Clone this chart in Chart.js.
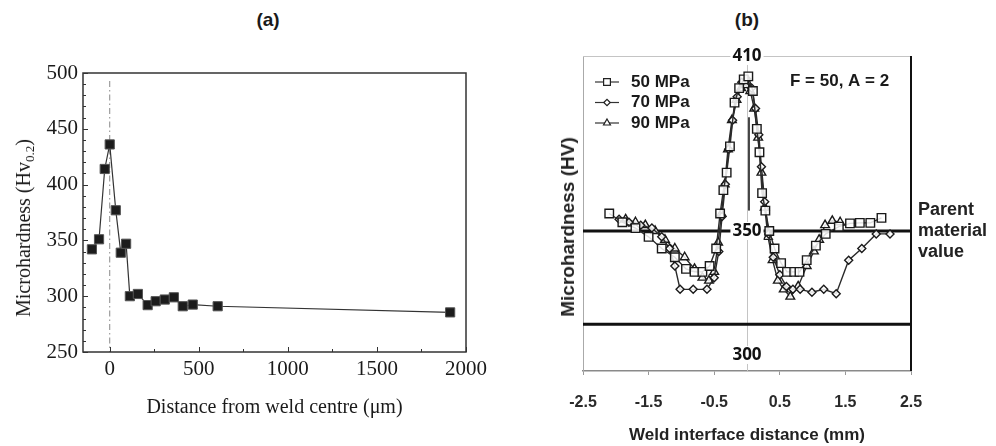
<!DOCTYPE html>
<html>
<head>
<meta charset="utf-8">
<script src="https://cdn.jsdelivr.net/npm/chart.js"></script>
<style>
  body { margin: 0; width: 996px; height: 446px; background: #fff; position: relative; overflow: hidden; }
  .panel { position: absolute; top: 0; width: 498px; height: 446px; }
  .txt { position: absolute; white-space: nowrap; color: #1a1a1a; }
  .ptitle { top: 20px; transform: translate(-50%, -50%); font: bold 19px "Liberation Sans", Arial, sans-serif; }
  .ytitle { transform: translate(-50%, -50%) rotate(-90deg); }
  sub { font-size: 13px; vertical-align: -4px; }
</style>
</head>
<body>
<div class="txt ptitle" style="left:268px">(a)</div>
<div class="txt ptitle" style="left:747px">(b)</div>

<div class="panel" style="left:0"><canvas id="chartA" width="498" height="446"></canvas></div>
<div class="panel" style="left:498px"><canvas id="chartB" width="498" height="446"></canvas></div>

<div class="txt ytitle" style="left:25px;top:228px;font:20px 'Liberation Serif', 'Times New Roman', serif">Microhardness (Hv<sub>0.2</sub>)</div>
<div class="txt ytitle" style="left:568px;top:227px;font:bold 19px 'Liberation Sans', Arial, sans-serif;color:#222">Microhardness (HV)</div>
<div class="txt" style="left:918px;top:199px;font:bold 18px 'Liberation Sans', Arial, sans-serif;line-height:21px;color:#222">Parent<br>material<br>value</div>

<script>
// panel (a): distance from weld centre (um) vs microhardness
const xA = [-100, -60, -28, 0, 34, 62, 92, 113, 158, 213, 258, 309, 360, 410, 466, 606, 1911];
const yA = [342, 351, 414, 436, 377, 339, 347, 300, 302, 292, 295.5, 297, 299, 291, 292.5, 291, 285.5];
const xTicksA = [0, 500, 1000, 1500, 2000];
const yTicksA = [250, 300, 350, 400, 450, 500];

// panel (b): weld interface distance (mm) vs microhardness (HV)
const x50 = [-2.1, -1.9, -1.7, -1.5, -1.3, -1.1, -0.93, -0.8, -0.68, -0.57, -0.47, -0.41, -0.36, -0.31, -0.26, -0.19, -0.12, -0.05, 0.02, 0.09, 0.15, 0.19, 0.23, 0.28, 0.34, 0.42, 0.52, 0.61, 0.72, 0.8, 0.91, 1.05, 1.2, 1.4, 1.57, 1.72, 1.88, 2.05];
const y50 = [356, 353, 351, 348, 344, 341, 337, 336, 336, 338, 344, 356, 364, 370, 379, 394, 399, 402, 403, 398, 385, 377, 363, 357, 350, 344, 339, 336, 336, 336, 340, 345, 349, 351.5, 352.6, 352.8, 352.8, 354.5];
const x70 = [-1.95, -1.8, -1.62, -1.45, -1.3, -1.18, -1.1, -1.02, -0.82, -0.61, -0.5, -0.43, -0.38, -0.33, -0.28, -0.22, -0.15, -0.08, 0, 0.07, 0.13, 0.18, 0.22, 0.27, 0.33, 0.4, 0.5, 0.6, 0.7, 0.81, 0.99, 1.17, 1.36, 1.55, 1.75, 1.97, 2.18];
const y70 = [354, 353, 352, 351, 348, 344, 338, 330, 330, 330, 334, 343, 355, 366, 378, 388, 396, 401, 402, 399, 392, 383, 372, 360, 349, 341, 335, 331, 330, 330, 329, 330, 328.5, 340, 344, 349, 349];
const x90 = [-1.85, -1.7, -1.55, -1.4, -1.25, -1.1, -0.95, -0.8, -0.68, -0.58, -0.5, -0.44, -0.39, -0.34, -0.29, -0.23, -0.16, -0.09, -0.02, 0.05, 0.11, 0.17, 0.22, 0.27, 0.32, 0.39, 0.47, 0.56, 0.66, 0.78, 0.91, 1.02, 1.1, 1.19, 1.3, 1.42];
const y90 = [354, 353, 352, 350, 347, 344, 341, 337, 334, 333, 336, 346, 356, 366, 378, 388, 395, 399, 400, 398, 392, 382, 370, 358, 348, 340, 333, 330, 327.5, 331, 338, 343, 347, 352, 353.5, 353];
const xTicksB = [-2.5, -1.5, -0.5, 0.5, 1.5, 2.5];
const seriesNames = ["50 MPa", "70 MPa", "90 MPa"];
const parentValue = 350;
const lowerLine = 318;
const peakLabel = 410;
const bottomLabel = 307.5;
const centreMark = { x: 0.03, top: 389, bottom: 357 };

const zip = (xs, ys) => xs.map((x, i) => ({ x, y: ys[i] }));
const SERIF = "'Liberation Serif', 'Times New Roman', serif";
const SANS = "'Liberation Sans', Arial, sans-serif";

const frameA = {
  id: "frameA",
  beforeDatasetsDraw(chart) {
    const { ctx, chartArea: a, scales: { x } } = chart;
    const px = x.getPixelForValue(0);
    ctx.save();
    ctx.strokeStyle = "#8a8a8a";
    ctx.lineWidth = 1;
    ctx.setLineDash([6, 3, 1.5, 3]);
    ctx.beginPath();
    ctx.moveTo(px, a.top + 8);
    ctx.lineTo(px, a.bottom);
    ctx.stroke();
    ctx.restore();
  },
  afterDraw(chart) {
    const { ctx, chartArea: a, scales: { x, y } } = chart;
    ctx.save();
    ctx.strokeStyle = "#333";
    ctx.lineWidth = 1.5;
    ctx.strokeRect(a.left, a.top, a.right - a.left, a.bottom - a.top);
    ctx.lineWidth = 1;
    ctx.beginPath();
    for (let v = 250; v <= 500; v += 10) {
      const py = Math.round(y.getPixelForValue(v)) + 0.5;
      ctx.moveTo(a.left, py);
      ctx.lineTo(a.left + (v % 50 === 0 ? 5 : 3), py);
    }
    for (let v = 0; v <= 2000; v += 250) {
      const px = Math.round(x.getPixelForValue(v)) + 0.5;
      ctx.moveTo(px, a.bottom);
      ctx.lineTo(px, a.bottom - (v % 500 === 0 ? 5 : 3));
    }
    ctx.stroke();
    ctx.restore();
  }
};

function textOnWhite(ctx, text, x, y) {
  const w = ctx.measureText(text).width;
  ctx.fillStyle = "#fff";
  ctx.fillRect(x - w / 2 - 2, y - 9, w + 4, 18);
  ctx.fillStyle = "#111";
  ctx.fillText(text, x, y);
}

const frameB = {
  id: "frameB",
  beforeDatasetsDraw(chart) {
    const { ctx, chartArea: a, scales: { x, y } } = chart;
    ctx.save();
    ctx.strokeStyle = "#c4c4c4";
    ctx.lineWidth = 1;
    ctx.beginPath();
    ctx.moveTo(a.left, a.top + 0.5);
    ctx.lineTo(a.right, a.top + 0.5);
    const px0 = Math.round(x.getPixelForValue(0)) + 0.5;
    ctx.moveTo(px0, a.top);
    ctx.lineTo(px0, a.bottom);
    ctx.stroke();

    ctx.strokeStyle = "#111";
    ctx.lineWidth = 3;
    ctx.beginPath();
    [parentValue, lowerLine].forEach(v => {
      const py = y.getPixelForValue(v);
      ctx.moveTo(a.left, py);
      ctx.lineTo(a.right, py);
    });
    ctx.stroke();

    ctx.lineWidth = 2;
    ctx.beginPath();
    ctx.moveTo(a.right, a.top);
    ctx.lineTo(a.right, a.bottom);
    ctx.stroke();

    ctx.strokeStyle = "#444";
    ctx.lineWidth = 2;
    ctx.beginPath();
    ctx.moveTo(x.getPixelForValue(centreMark.x), y.getPixelForValue(centreMark.top));
    ctx.lineTo(x.getPixelForValue(centreMark.x), y.getPixelForValue(centreMark.bottom));
    ctx.stroke();
    ctx.restore();
  },
  afterDatasetsDraw(chart) {
    const { ctx, chartArea: a, scales: { x, y } } = chart;
    ctx.save();
    ctx.font = "bold 17px 'Open Sans', sans-serif";
    ctx.textAlign = "center";
    ctx.textBaseline = "middle";
    const px0 = x.getPixelForValue(0);
    textOnWhite(ctx, String(peakLabel), px0, y.getPixelForValue(peakLabel));
    textOnWhite(ctx, String(parentValue), px0, y.getPixelForValue(parentValue));
    textOnWhite(ctx, "300", px0, y.getPixelForValue(bottomLabel));

    // legend in the top-left corner
    ctx.font = "bold 17px " + SANS;
    ctx.textAlign = "left";
    chart.data.datasets.forEach((ds, i) => {
      const ly = a.top + 26 + i * 20.5;
      ctx.strokeStyle = "#333";
      ctx.lineWidth = 1.2;
      ctx.beginPath();
      ctx.moveTo(a.left + 12, ly);
      ctx.lineTo(a.left + 36, ly);
      ctx.stroke();
      ctx.fillStyle = "#fff";
      ctx.strokeStyle = "#222";
      Chart.helpers.drawPoint(ctx, { pointStyle: ds.pointStyle, radius: ds.pointRadius * 0.8, borderWidth: 1.2, rotation: 0 }, a.left + 24, ly);
      ctx.fillStyle = "#1a1a1a";
      ctx.fillText(ds.label, a.left + 48, ly);
    });
    ctx.fillText("F = 50, A = 2", a.left + 207, a.top + 25);
    ctx.restore();
  }
};

new Chart(document.getElementById("chartA"), {
  type: "scatter",
  data: {
    datasets: [{
      data: zip(xA, yA),
      showLine: true,
      borderColor: "#333",
      borderWidth: 1.2,
      pointStyle: "rect",
      pointRadius: 6.5,
      pointBackgroundColor: "#1c1c1c",
      pointBorderColor: "#555",
      pointBorderWidth: 1
    }]
  },
  options: {
    responsive: false,
    animation: false,
    layout: { padding: { top: 73, right: 32, left: 0, bottom: 0 } },
    plugins: { legend: { display: false }, tooltip: { enabled: false } },
    scales: {
      x: {
        type: "linear",
        min: -150,
        max: 2000,
        afterBuildTicks: s => { s.ticks = xTicksA.map(v => ({ value: v })); },
        afterFit: s => { s.height = 94; },
        grid: { display: false, drawTicks: false },
        border: { display: false },
        ticks: { padding: 5, color: "#1a1a1a", font: { family: SERIF, size: 21 }, callback: v => String(v) },
        title: {
          display: true,
          text: "Distance from weld centre (μm)",
          color: "#1a1a1a",
          font: { family: SERIF, size: 20 },
          padding: { top: 0, bottom: 26 }
        }
      },
      y: {
        min: 250,
        max: 500,
        afterBuildTicks: s => { s.ticks = yTicksA.map(v => ({ value: v })); },
        afterFit: s => { s.width = 83; },
        grid: { display: false, drawTicks: false },
        border: { display: false },
        ticks: { padding: 5, color: "#1a1a1a", font: { family: SERIF, size: 21 }, callback: v => String(v) }
      }
    }
  },
  plugins: [frameA]
});

const styleB = [
  { pointStyle: "rect", pointRadius: 6 },
  { pointStyle: "rectRot", pointRadius: 4 },
  { pointStyle: "triangle", pointRadius: 5 }
];
const seriesB = [zip(x50, y50), zip(x70, y70), zip(x90, y90)];

new Chart(document.getElementById("chartB"), {
  type: "scatter",
  data: {
    datasets: seriesB.map((pts, i) => ({
      label: seriesNames[i],
      data: pts,
      showLine: true,
      borderColor: "#2a2a2a",
      borderWidth: 1.4,
      pointStyle: styleB[i].pointStyle,
      pointRadius: styleB[i].pointRadius,
      pointBackgroundColor: "rgba(255,255,255,0.85)",
      pointBorderColor: "#1a1a1a",
      pointBorderWidth: 1.4
    }))
  },
  options: {
    responsive: false,
    animation: false,
    layout: { padding: { top: 56, right: 85, left: 0, bottom: 0 } },
    plugins: { legend: { display: false }, tooltip: { enabled: false } },
    scales: {
      x: {
        type: "linear",
        min: -2.5,
        max: 2.5,
        afterBuildTicks: s => { s.ticks = xTicksB.map(v => ({ value: v })); },
        afterFit: s => { s.height = 75; },
        grid: { drawOnChartArea: false, drawTicks: true, tickLength: 4, color: "#999" },
        border: { color: "#8a8a8a", width: 1.5 },
        ticks: {
          padding: 18,
          color: "#2a2a2a",
          font: { family: SANS, size: 16, weight: "bold" },
          callback: v => v.toFixed(1)
        },
        title: {
          display: true,
          text: "Weld interface distance (mm)",
          color: "#222",
          font: { family: SANS, size: 17, weight: "bold" },
          padding: { top: 0, bottom: 0 }
        }
      },
      y: {
        min: 302,
        max: 410,
        afterFit: s => { s.width = 85; },
        grid: { display: false, drawTicks: false },
        border: { color: "#aaa", width: 1 },
        ticks: { display: false }
      }
    }
  },
  plugins: [frameB]
});
</script>
</body>
</html>
